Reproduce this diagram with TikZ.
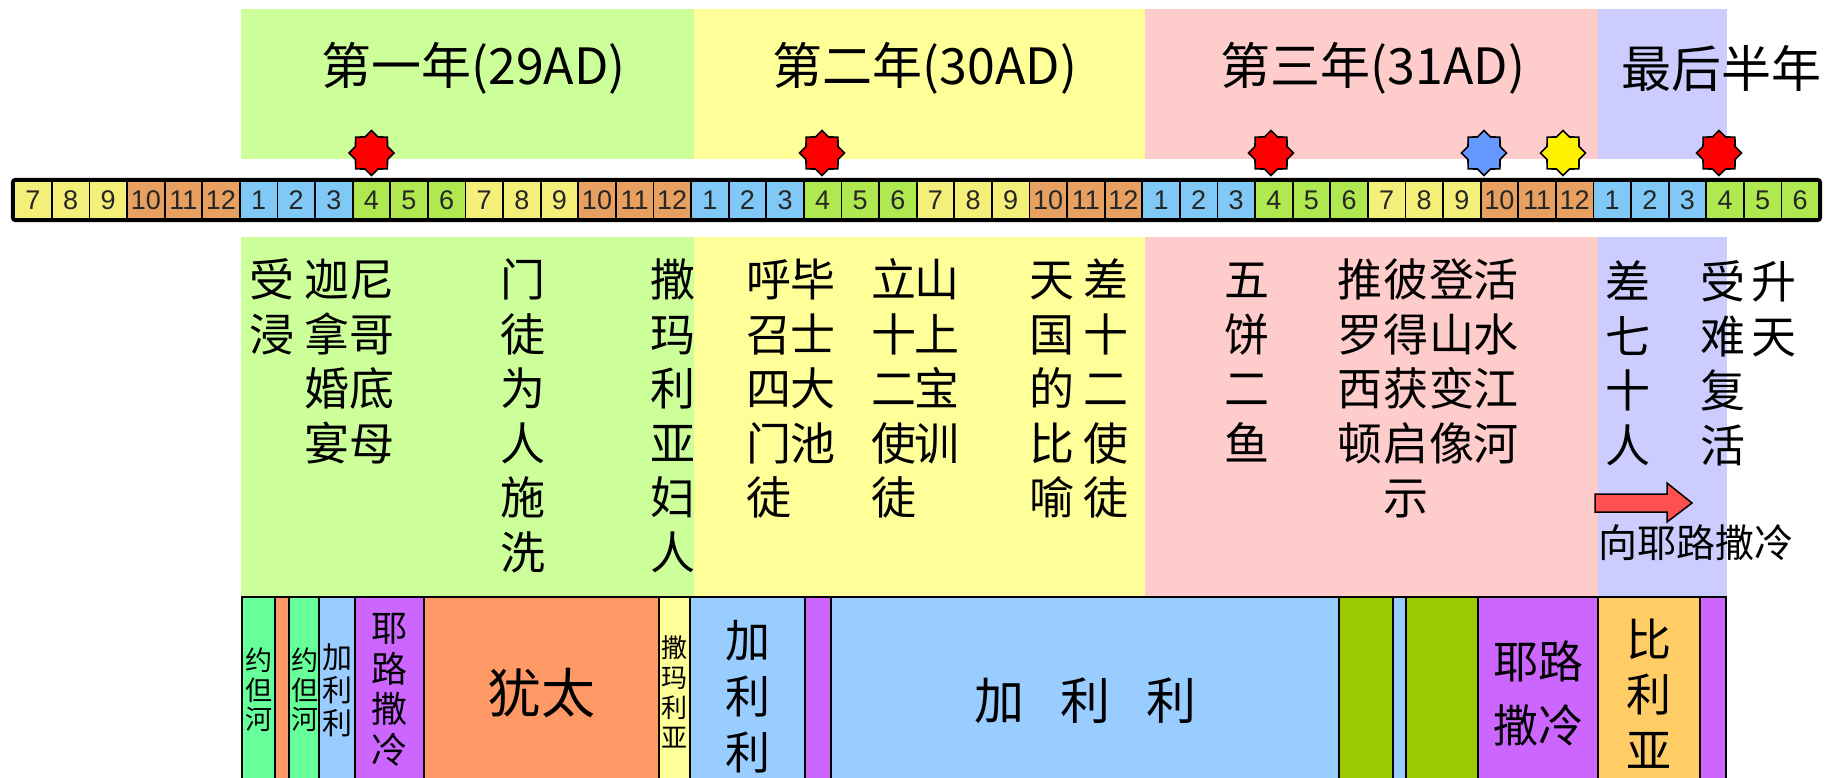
\documentclass[tikz,border=0pt]{standalone}
\usepackage{fontspec}
\setmainfont{Noto Sans CJK SC}
\newfontfamily\numfont{Liberation Sans}
\usetikzlibrary{shapes.geometric}
\definecolor{bandG}{HTML}{CCFF99}
\definecolor{bandY}{HTML}{FFFF99}
\definecolor{bandP}{HTML}{FFCCCC}
\definecolor{bandV}{HTML}{CCCCFF}
\definecolor{mBlue}{HTML}{80C8F5}
\definecolor{mGreen}{HTML}{B0E850}
\definecolor{mYellow}{HTML}{F4EF78}
\definecolor{mOrange}{HTML}{E8A060}
\definecolor{bJordan}{HTML}{66FF99}
\definecolor{bOrange}{HTML}{FF9966}
\definecolor{bBlue}{HTML}{99CCFF}
\definecolor{bPurple}{HTML}{CC66FF}
\definecolor{bYellow}{HTML}{FFFF99}
\definecolor{bOlive}{HTML}{99CC00}
\definecolor{bGold}{HTML}{FFCC66}
\definecolor{arrowRed}{HTML}{FF5050}
\definecolor{starBlue}{HTML}{6699FF}
\newcommand\fs[2]{\fontsize{#1}{#2}\selectfont}
\newcommand\tp{\rule{0pt}{0.88em}}
\begin{document}
\begin{tikzpicture}[x=1pt,y=-1pt,
  every node/.style={inner sep=0pt, outer sep=0pt},
  header/.style={font={\fs{50}{60}}},
  col/.style={font={\fs{45}{54.5}}, align=center, anchor=north},
  cell/.style={draw=black, line width=1.8pt, minimum width=37.6pt, minimum height=38pt, font={\numfont\fs{27}{27}}, text=black!85},
  mstar/.style={star, star points=8, star point ratio=1.3, minimum size=45pt, draw=black, line width=1.6pt},
  region/.style={draw=black, line width=1.8pt},
  btext/.style={align=center, anchor=center},
]
\useasboundingbox (0,0) rectangle (1826,778);
\clip (0,0) rectangle (1826,778);
\fill[white] (0,0) rectangle (1826,778);
% bands
\fill[bandG] (241,9) rectangle (694,159);
\fill[bandY] (694,9) rectangle (1145,159);
\fill[bandP] (1145,9) rectangle (1598,159);
\fill[bandV] (1598,9) rectangle (1727,159);
\fill[bandG] (241,237) rectangle (694,600);
\fill[bandY] (694,237) rectangle (1145,600);
\fill[bandP] (1145,237) rectangle (1598,600);
\fill[bandV] (1598,237) rectangle (1727,600);
% headers
\node[header] (h1) at (473.5,68) {第一年(29AD)};
\node[header] (h2) at (925,68) {第二年(30AD)};
\node[header] (h3) at (1373,68) {第三年(31AD)};
\node[header] (h4) at (1721,68) {最后半年};
% month bar
\foreach \i in {0,...,47}{
  \pgfmathtruncatemacro\m{mod(\i+6,12)+1}
  \pgfmathtruncatemacro\q{int((\m-1)/3)}
  \ifcase\q \def\cc{mBlue}\or\def\cc{mGreen}\or\def\cc{mYellow}\else\def\cc{mOrange}\fi
  \node[cell, fill=\cc] (cell\i) at ({14.2+(\i+0.5)*37.6},200) {\m};
}
\draw[line width=3.2pt, rounded corners=3pt] (12.5,179.5) rectangle (1820.5,220.5);
% stars
\node[mstar, fill=red] (s1) at (371.5,153) {};
\node[mstar, fill=red] (s2) at (822,153) {};
\node[mstar, fill=red] (s3) at (1271,153) {};
\node[mstar, fill=starBlue] (s4) at (1484,153) {};
\node[mstar, fill=yellow] (s5) at (1563,153) {};
\node[mstar, fill=red] (s6) at (1719,153) {};
% event columns
\node[col] (e1) at (272,257) {\tp 受\\浸};
\node[col] (e2) at (327,257) {\tp 迦\\拿\\婚\\宴};
\node[col] (e3) at (372,257) {\tp 尼\\哥\\底\\母};
\node[col] (e4) at (523,257) {\tp 门\\徒\\为\\人\\施\\洗};
\node[col] (e5) at (673,257) {\tp 撒\\玛\\利\\亚\\妇\\人};
\node[col] (e6) at (769,257) {\tp 呼\\召\\四\\门\\徒};
\node[col] (e7) at (813,257) {\tp 毕\\士\\大\\池};
\node[col] (e8) at (894,257) {\tp 立\\十\\二\\使\\徒};
\node[col] (e9) at (937,257) {\tp 山\\上\\宝\\训};
\node[col] (e10) at (1052,257) {\tp 天\\国\\的\\比\\喻};
\node[col] (e11) at (1106,257) {\tp 差\\十\\二\\使\\徒};
\node[col] (e12) at (1247,257) {\tp 五\\饼\\二\\鱼};
\node[col] (e13) at (1360,257) {\tp 推\\罗\\西\\顿};
\node[col] (e14) at (1406,257) {\tp 彼\\得\\获\\启\\示};
\node[col] (e15) at (1452,257) {\tp 登\\山\\变\\像};
\node[col] (e16) at (1496,257) {\tp 活\\水\\江\\河};
\node[col] (e17) at (1628,259) {\tp 差\\七\\十\\人};
\node[col] (e18) at (1723,259) {\tp 受\\难\\复\\活};
\node[col] (e19) at (1774,259) {\tp 升\\天};
% arrow to Jerusalem
\draw[fill=arrowRed, line width=1.5pt, line join=miter] (1595,494) -- (1667,494) -- (1667,483) -- (1692,503) -- (1667,522) -- (1667,512) -- (1595,512) -- cycle;
\node[font={\fs{39}{39}}] (toJ) at (1696,543) {向耶路撒冷};
% region boxes
\foreach \a/\b/\c in {242/275/bJordan, 275/289/bOrange, 289/319/bJordan, 319/355/bBlue, 355/424/bPurple, 424/659/bOrange, 659/690/bYellow, 690/805/bBlue, 805/831/bPurple, 831/1339/bBlue, 1339/1393/bOlive, 1393/1406/bBlue, 1406/1478/bOlive, 1478/1598/bPurple, 1598/1700/bGold, 1700/1726/bPurple}{
  \draw[region, fill=\c] (\a,597) rectangle (\b,800);
}
\node[btext, font={\fs{27}{29.5}}] (r1) at (258.5,690) {约\\但\\河};
\node[btext, font={\fs{27}{29.5}}] (r2) at (304.5,690) {约\\但\\河};
\node[btext, font={\fs{30}{33}}] (r3) at (337,690) {加\\利\\利};
\node[btext, font={\fs{36}{40.5}}] (r4) at (389.5,690) {耶\\路\\撒\\冷};
\node[btext, font={\fs{54}{54}}] (r5) at (541.5,693) {犹太};
\node[btext, font={\fs{26}{30}}] (r6) at (674.5,691.5) {撒\\玛\\利\\亚};
\node[btext, font={\fs{45}{56}}] (r7) at (747.5,697) {加\\利\\利};
\node[btext, font={\fs{50}{50}}] (r8) at (1085,701) {加\hspace{36pt}利\hspace{36pt}利};
\node[btext, font={\fs{45}{64}}] (r9) at (1538,693) {耶路\\撒冷};
\node[btext, font={\fs{45}{55.5}}] (r10) at (1649,693.5) {比\\利\\亚};
\end{tikzpicture}
\end{document}
